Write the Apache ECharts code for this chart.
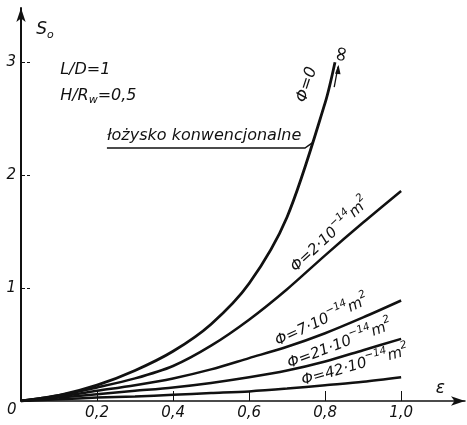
<!DOCTYPE html>
<html>
<head>
<meta charset="utf-8">
<script src="https://cdn.jsdelivr.net/npm/echarts@6/dist/echarts.min.js"></script>
<style>
html,body{margin:0;padding:0;background:#fff;}
#c{width:467px;height:425px;}
</style>
</head>
<body>
<div id="c"></div>
<script>
// ---- data ----
const epsPhi0 = [0, 0.1, 0.2, 0.3, 0.4, 0.5, 0.6, 0.7, 0.8, 0.826];
const soPhi0  = [0, 0.05, 0.14, 0.27, 0.44, 0.68, 1.04, 1.63, 2.64, 3.0];
const eps     = [0, 0.1, 0.2, 0.3, 0.4, 0.5, 0.6, 0.7, 0.8, 0.9, 1.0];
const soPhi2  = [0, 0.05, 0.12, 0.20, 0.31, 0.49, 0.72, 0.99, 1.29, 1.58, 1.86];
const soPhi7  = [0, 0.04, 0.09, 0.14, 0.20, 0.28, 0.38, 0.48, 0.60, 0.74, 0.89];
const soPhi21 = [0, 0.03, 0.06, 0.09, 0.12, 0.16, 0.21, 0.27, 0.35, 0.45, 0.55];
const soPhi42 = [0, 0.015, 0.03, 0.04, 0.055, 0.07, 0.085, 0.11, 0.14, 0.17, 0.21];
const xTicks = [0.2, 0.4, 0.6, 0.8, 1.0];
const xTickLabels = ['0,2', '0,4', '0,6', '0,8', '1,0'];
const yTicks = [1, 2, 3];
const yTickLabels = ['1', '2', '3'];

const FONT = 'DejaVu Sans';
const INK = '#111';
const zip = (xs, ys) => xs.map((x, i) => [x, ys[i]]);

const chart = echarts.init(document.getElementById('c'));
const lineSeries = (name, data, w) => ({
  name, type: 'line', data, smooth: 0.3, symbol: 'none', silent: true,
  lineStyle: {color: INK, width: w}
});
const pick = (ticks, labels) => v => {
  const i = ticks.findIndex(t => Math.abs(t - v) < 1e-6);
  return i < 0 ? '' : labels[i];
};

chart.setOption({
  animation: false,
  grid: {left: 21, right: 2, top: 8, bottom: 24, containLabel: false},
  xAxis: {
    type: 'value', min: 0, max: 1.168,
    axisLine: {lineStyle: {color: INK, width: 1.5}, symbol: ['none', 'arrow'], symbolSize: [7, 14]},
    axisTick: {inside: true, length: 10, customValues: xTicks, lineStyle: {color: INK, width: 1}},
    splitLine: {show: false},
    axisLabel: {
      margin: 5, color: INK, fontFamily: FONT, fontStyle: 'italic', fontSize: 15,
      customValues: xTicks, formatter: pick(xTicks, xTickLabels)
    }
  },
  yAxis: {
    type: 'value', min: 0, max: 3.48,
    axisLine: {lineStyle: {color: INK, width: 2}, symbol: ['none', 'arrow'], symbolSize: [7, 14]},
    axisTick: {inside: true, length: 9, customValues: yTicks, lineStyle: {color: INK, width: 1, type: [4, 2]}},
    splitLine: {show: false},
    axisLabel: {
      margin: 5, color: INK, fontFamily: FONT, fontStyle: 'italic', fontSize: 15,
      customValues: yTicks, formatter: pick(yTicks, yTickLabels)
    }
  },
  series: [
    lineSeries('phi0', zip(epsPhi0, soPhi0), 2.8),
    lineSeries('phi2', zip(eps, soPhi2), 2.5),
    lineSeries('phi7', zip(eps, soPhi7), 2.5),
    lineSeries('phi21', zip(eps, soPhi21), 2.5),
    lineSeries('phi42', zip(eps, soPhi42), 2.5)
  ]
});

const P = (x, y) => chart.convertToPixel({gridIndex: 0}, [x, y]);
const deg = d => d * Math.PI / 180;
const rich = {
  a: {fontFamily: FONT, fontStyle: 'italic', fontSize: 15, lineHeight: 24, color: INK},
  t: {fontFamily: FONT, fontStyle: 'italic', fontSize: 16, lineHeight: 20, color: INK},
  s: {fontFamily: FONT, fontStyle: 'italic', fontSize: 10.5, lineHeight: 10, verticalAlign: 'top', color: INK},
  b: {fontFamily: FONT, fontStyle: 'italic', fontSize: 11, lineHeight: 11, verticalAlign: 'bottom', color: INK},
  big: {fontFamily: FONT, fontStyle: 'italic', fontSize: 17, lineHeight: 22, color: INK},
  inf: {fontFamily: FONT, fontSize: 21, lineHeight: 20, color: INK}
};
function label(text, at, rotDeg, align, vAlign) {
  const p = P(at[0], at[1]);
  return {
    type: 'text', x: p[0], y: p[1], rotation: deg(rotDeg || 0), silent: true,
    style: {text, rich, align: align || 'center', verticalAlign: vAlign || 'middle',
            font: 'italic 15px ' + FONT, fill: INK}
  };
}
const phiLabel = n => '{a|Φ=' + n + '·10}{s|−14}{a|m}{s|2}';

const u0 = P(0.226, 2.24), u1 = P(0.747, 2.24), u2 = P(0.768, 2.29);
const a0 = P(0.824, 2.78), a1 = P(0.834, 2.96);

chart.setOption({
  graphic: [
    label('{big|S}{b|o}', [0.04, 3.29], 0, 'left'),
    label('{a|0}', [-0.024, -0.085], 0, 'center'),
    label('{big|ε}', [1.103, 0.11], 0, 'center'),
    label('{t|L/D=1}', [0.103, 2.93], 0, 'left'),
    label('{t|H/R}{b|w}{t|=0,5}', [0.103, 2.70], 0, 'left'),
    label('{t|łożysko konwencjonalne}', [0.226, 2.35], 0, 'left'),
    {
      type: 'polyline', silent: true,
      shape: {points: [u0, u1, u2]},
      style: {stroke: INK, lineWidth: 1.5, fill: null}
    },
    label('{t|Φ=0}', [0.752, 2.80], 72, 'center'),
    label('{inf|∞}', [0.845, 3.07], 80, 'center'),
    {
      type: 'line', silent: true,
      shape: {x1: a0[0], y1: a0[1], x2: a1[0], y2: a1[1]},
      style: {stroke: INK, lineWidth: 1.3}
    },
    {
      type: 'polygon', silent: true,
      shape: {points: [[a1[0] + 0.5, a1[1] - 2], [a1[0] - 3, a1[1] + 7], [a1[0] + 2.5, a1[1] + 7.5]]},
      style: {fill: INK}
    },
    label(phiLabel(2), [0.813, 1.47], 43, 'center'),
    label(phiLabel(7), [0.792, 0.71], 25, 'center'),
    label(phiLabel(21), [0.839, 0.50], 21, 'center'),
    label(phiLabel(42), [0.879, 0.31], 16, 'center')
  ]
});
</script>
</body>
</html>
